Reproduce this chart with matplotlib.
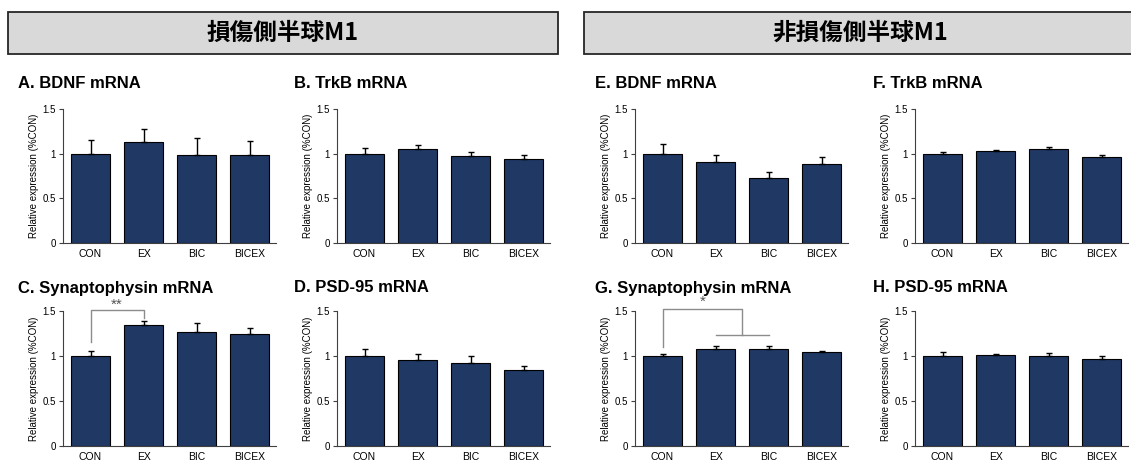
import matplotlib.pyplot as plt
from matplotlib.patches import Rectangle

plt.rcParams["font.family"] = ["Liberation Sans", "DejaVu Sans"]

# ========================================
# data
# ========================================
groups = ["CON", "EX", "BIC", "BICEX"]

# lesioned hemisphere M1
bdnf_les = [1.00, 1.13, 0.99, 0.99]
bdnf_les_err = [0.15, 0.15, 0.18, 0.15]
trkb_les = [1.00, 1.05, 0.97, 0.94]
trkb_les_err = [0.06, 0.05, 0.05, 0.04]
syn_les = [1.00, 1.35, 1.27, 1.24]
syn_les_err = [0.06, 0.04, 0.10, 0.07]
psd_les = [1.00, 0.96, 0.92, 0.85]
psd_les_err = [0.08, 0.06, 0.08, 0.04]

# non-lesioned hemisphere M1
bdnf_non = [1.00, 0.91, 0.73, 0.88]
bdnf_non_err = [0.11, 0.08, 0.07, 0.08]
trkb_non = [1.00, 1.03, 1.05, 0.96]
trkb_non_err = [0.02, 0.015, 0.03, 0.03]
syn_non = [1.00, 1.08, 1.08, 1.05]
syn_non_err = [0.02, 0.03, 0.03, 0.01]
psd_non = [1.00, 1.01, 1.005, 0.97]
psd_non_err = [0.04, 0.015, 0.03, 0.03]

titles = ["A. BDNF mRNA", "B. TrkB mRNA", "E. BDNF mRNA", "F. TrkB mRNA",
          "C. Synaptophysin mRNA", "D. PSD-95 mRNA", "G. Synaptophysin mRNA", "H. PSD-95 mRNA"]
means = [bdnf_les, trkb_les, bdnf_non, trkb_non, syn_les, psd_les, syn_non, psd_non]
errs = [bdnf_les_err, trkb_les_err, bdnf_non_err, trkb_non_err,
        syn_les_err, psd_les_err, syn_non_err, psd_non_err]

headers = ["損傷側半球M1", "非損傷側半球M1"]

# ========================================
# layout (pixels of the 1131x463 picture)
# ========================================
W, H = 1131, 463
BAR = "#1f3864"
lefts = [63, 337, 635, 915]
title_x = [18, 294, 595, 873]
rows = [(109, 243, 84), (311, 446, 288)]  # top, bottom, title y
ax_w = 213

fig = plt.figure(figsize=(W / 100, H / 100), dpi=100)

# header boxes
for (x0, x1), txt in zip([(8, 558), (584, 1145)], headers):
    fig.patches.append(Rectangle((x0 / W, 1 - 54 / H), (x1 - x0) / W, 42 / H,
                                 transform=fig.transFigure, facecolor="#d9d9d9",
                                 edgecolor="#262626", linewidth=1.3))
    fig.text((x0 + min(x1, W)) / 2 / W + (0.002 if x1 > W else 0), 1 - 33 / H, txt,
             ha="center", va="center", fontsize=17, fontweight="bold",
             family=["Noto Sans CJK JP", "DejaVu Sans"])

axes = []
for i in range(8):
    r, c = divmod(i, 4)
    top, bot, ty = rows[r]
    ax = fig.add_axes([lefts[c] / W, 1 - bot / H, ax_w / W, (bot - top) / H])
    x = range(len(groups))
    ax.bar(x, means[i], width=0.72, color=BAR, edgecolor="black", linewidth=0.8,
           yerr=[[0] * 4, errs[i]],
           error_kw=dict(ecolor="black", elinewidth=1, capsize=2.5, capthick=1))
    ax.set_xlim(-0.52, 3.5)
    ax.set_ylim(0, 1.5)
    ax.set_yticks([0, 0.5, 1, 1.5])
    ax.set_yticklabels(["0", "0.5", "1", "1.5"])
    ax.set_xticks(list(x))
    ax.set_xticklabels(groups)
    ax.tick_params(axis="y", direction="out", length=3, labelsize=7, pad=2,
                   color="#404040")
    ax.tick_params(axis="x", length=0, labelsize=7.5, pad=4)
    for s in ["top", "right"]:
        ax.spines[s].set_visible(False)
    for s in ["left", "bottom"]:
        ax.spines[s].set_color("#404040")
        ax.spines[s].set_linewidth(0.8)
    ax.set_ylabel("Relative expression (%CON)", fontsize=7, labelpad=3)
    fig.text(title_x[c] / W, 1 - ty / H, titles[i], ha="left", va="center",
             fontsize=12, fontweight="bold")
    axes.append(ax)

# significance marks
GRAY = "#8c8c8c"
ax = axes[4]  # C
ax.plot([0, 0, 1, 1], [1.16, 1.51, 1.51, 1.42], color=GRAY, lw=1, clip_on=False)
ax.text(0.5, 1.49, "**", ha="center", va="bottom", fontsize=11, color="#555555")

ax = axes[6]  # G
ax.plot([0, 0, 1.5, 1.5], [1.10, 1.52, 1.52, 1.235], color=GRAY, lw=1, clip_on=False)
ax.plot([1, 2], [1.235, 1.235], color=GRAY, lw=1, clip_on=False)
ax.text(0.75, 1.52, "*", ha="center", va="bottom", fontsize=11, color="#555555")

fig.savefig("out.png", dpi=100)
